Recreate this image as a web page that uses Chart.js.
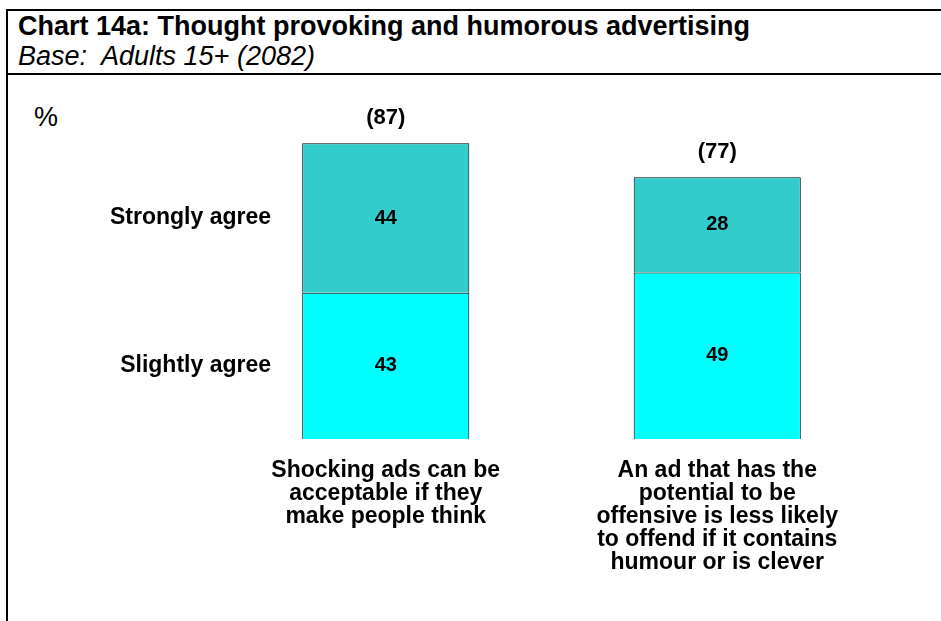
<!DOCTYPE html>
<html lang="en">
<head>
    <meta charset="UTF-8">
    <title>Chart 14a: Thought provoking and humorous advertising</title>
    <script src="https://cdn.jsdelivr.net/npm/chart.js"></script>
    <style>
        body {
            margin: 0;
            width: 941px;
            height: 621px;
            overflow: hidden;
            background: #fff;
            font-family: 'Liberation Sans', Arial, sans-serif;
            position: relative;
        }
        .frame {
            position: absolute;
            left: 6px;
            top: 9px;
            width: 960px;
            height: 640px;
            border: 2px solid #000;
        }
        .header {
            height: 62px;
            border-bottom: 2px solid #000;
            padding-left: 10px;
        }
        .header h1 {
            margin: 0;
            font-size: 27px;
            font-weight: bold;
            line-height: 30px;
            white-space: nowrap;
        }
        .header p {
            margin: 0;
            font-size: 27px;
            font-style: italic;
            line-height: 30px;
            white-space: nowrap;
        }
        .unit {
            position: absolute;
            left: 34px;
            top: 101px;
            font-size: 27px;
            line-height: 32px;
        }
        #chart {
            position: absolute;
            left: 0;
            top: 0;
        }
    </style>
</head>
<body>
    <div class="frame">
        <div class="header">
            <h1>Chart 14a: Thought provoking and humorous advertising</h1>
            <p>Base:&nbsp; Adults 15+ (2082)</p>
        </div>
    </div>
    <div class="unit">%</div>
    <canvas id="chart" width="941" height="621"></canvas>

<script>
const statements = [
    ['Shocking ads can be', 'acceptable if they', 'make people think'],
    ['An ad that has the', 'potential to be', 'offensive is less likely', 'to offend if it contains', 'humour or is clever']
];
const slightlyAgree = [43, 49];
const stronglyAgree = [44, 28];
const totals = [87, 77];

const FONT = '"Liberation Sans", Arial, sans-serif';

// totals above the bars, values inside segments, series names beside the first bar
const barLabels = {
    id: 'barLabels',
    afterDatasetsDraw(chart) {
        const ctx = chart.ctx;
        ctx.save();
        ctx.fillStyle = '#000';
        ctx.textAlign = 'center';
        ctx.textBaseline = 'middle';
        ctx.font = 'bold 20px ' + FONT;
        chart.data.datasets.forEach((ds, i) => {
            chart.getDatasetMeta(i).data.forEach((bar, j) => {
                const mid = (bar.y + bar.base) / 2;
                ctx.fillText(ds.data[j], bar.x, mid);
            });
        });
        ctx.font = 'bold 22px ' + FONT;
        const topMeta = chart.getDatasetMeta(chart.data.datasets.length - 1);
        topMeta.data.forEach((bar, j) => {
            ctx.fillText('(' + totals[j] + ')', bar.x, bar.y - 25);
        });
        ctx.textAlign = 'right';
        ctx.font = 'bold 23px ' + FONT;
        chart.data.datasets.forEach((ds, i) => {
            const bar = chart.getDatasetMeta(i).data[0];
            const mid = (bar.y + bar.base) / 2;
            ctx.fillText(ds.label, 271, mid);
        });
        ctx.restore();
    }
};

new Chart(document.getElementById('chart'), {
    type: 'bar',
    data: {
        labels: statements,
        datasets: [
            {
                label: 'Slightly agree',
                data: slightlyAgree,
                backgroundColor: '#00ffff',
                borderColor: '#000',
                borderWidth: 1
            },
            {
                label: 'Strongly agree',
                data: stronglyAgree,
                backgroundColor: '#33cccc',
                borderColor: '#000',
                borderWidth: 1
            }
        ]
    },
    options: {
        responsive: false,
        animation: false,
        layout: { padding: { left: 220, right: 58, top: 99, bottom: 0 } },
        datasets: { bar: { barPercentage: 0.63, categoryPercentage: 0.8 } },
        scales: {
            x: {
                stacked: true,
                grid: { display: false, drawTicks: false },
                border: { display: false },
                afterFit: s => { s.height = 182; },
                ticks: {
                    color: '#000',
                    padding: 20,
                    maxRotation: 0,
                    autoSkip: false,
                    font: { family: FONT, size: 23, weight: 'bold', lineHeight: '23px' }
                }
            },
            y: {
                stacked: true,
                display: false,
                min: 0,
                max: 100
            }
        },
        plugins: {
            legend: { display: false },
            tooltip: { enabled: false }
        }
    },
    plugins: [barLabels]
});
</script>
</body>
</html>
